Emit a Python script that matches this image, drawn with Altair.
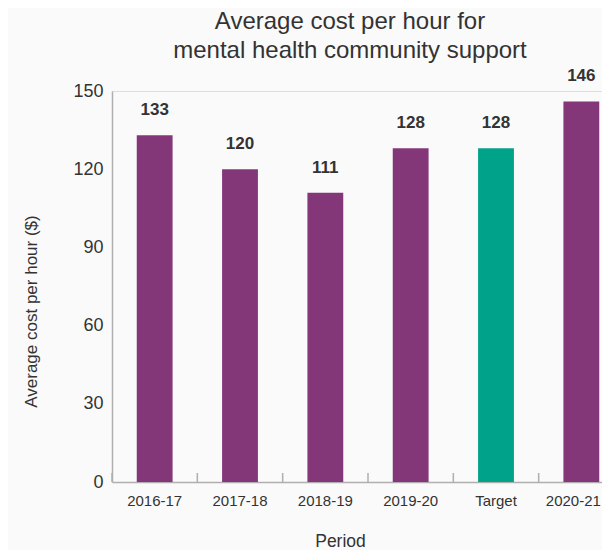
import altair as alt
import pandas as pd

periods = ["2016-17", "2017-18", "2018-19", "2019-20", "Target", "2020-21"]
costs = [133, 120, 111, 128, 128, 146]
y_ticks = [0, 30, 60, 90, 120, 150]

PURPLE = "#833779"
GREEN = "#00a289"
TEXT = "#333333"
AXIS = "#b0aeae"

df = pd.DataFrame({"period": periods, "cost": costs})

x_enc = alt.X(
    "period:N",
    sort=periods,
    scale=alt.Scale(paddingInner=0, paddingOuter=0, range=[0, 512]),
    axis=alt.Axis(
        title="Period",
        labelAngle=0,
        labelFontSize=15,
        labelColor=TEXT,
        labelPadding=11,
        labelOffset={"condition": {"test": "datum.value === '2020-21'", "value": -8}, "value": 0},
        ticks=False,
        domainColor=AXIS,
        domainWidth=1.5,
        titleFontSize=17.5,
        titleFontWeight="normal",
        titleColor=TEXT,
        titlePadding=24,
        titleX=228,
    ),
)

y_enc = alt.Y(
    "cost:Q",
    scale=alt.Scale(domain=[0, 150], nice=False),
    axis=alt.Axis(
        title="Average cost per hour ($)",
        values=y_ticks,
        grid=False,
        ticks=False,
        labelFontSize=18,
        labelColor=TEXT,
        labelPadding=9,
        domainColor=AXIS,
        domainWidth=1.5,
        titleFontSize=17,
        titleFontWeight="normal",
        titleColor=TEXT,
        titlePadding=32,
        titleY=220,
    ),
)

bars = alt.Chart(df).mark_bar(width=alt.RelativeBandSize(0.42)).encode(
    x=x_enc,
    y=y_enc,
    color=alt.condition(alt.datum.period == "Target", alt.value(GREEN), alt.value(PURPLE)),
)

labels = alt.Chart(df).mark_text(
    dy=-20, baseline="alphabetic", fontSize=17, fontWeight="bold", color=TEXT
).encode(x=alt.X("period:N", sort=periods), y="cost:Q", text="cost:Q")

ticks = alt.Chart(df).mark_rule(color=AXIS, strokeWidth=1.5).encode(
    x=alt.X("period:N", sort=periods, bandPosition=0),
    y=alt.value(391),
    y2=alt.value(382),
)

chart = (
    alt.layer(bars, ticks, labels)
    .properties(
        width=490,
        height=391,
        background="#fafafa",
        autosize=alt.AutoSizeParams(type="none"),
        padding={"left": 104, "top": 83, "right": 0, "bottom": 68},
        title=alt.TitleParams(
            text=["Average cost per hour for", "mental health community support"],
            fontSize=24,
            fontWeight="normal",
            color=TEXT,
            lineHeight=29,
            anchor="middle",
            dx=-7,
            offset=4,
        ),
    )
    .configure_view(stroke=None)
    .configure(font="Liberation Sans")
)

chart.save("out.html", embed_options={"renderer": "svg", "actions": False})
